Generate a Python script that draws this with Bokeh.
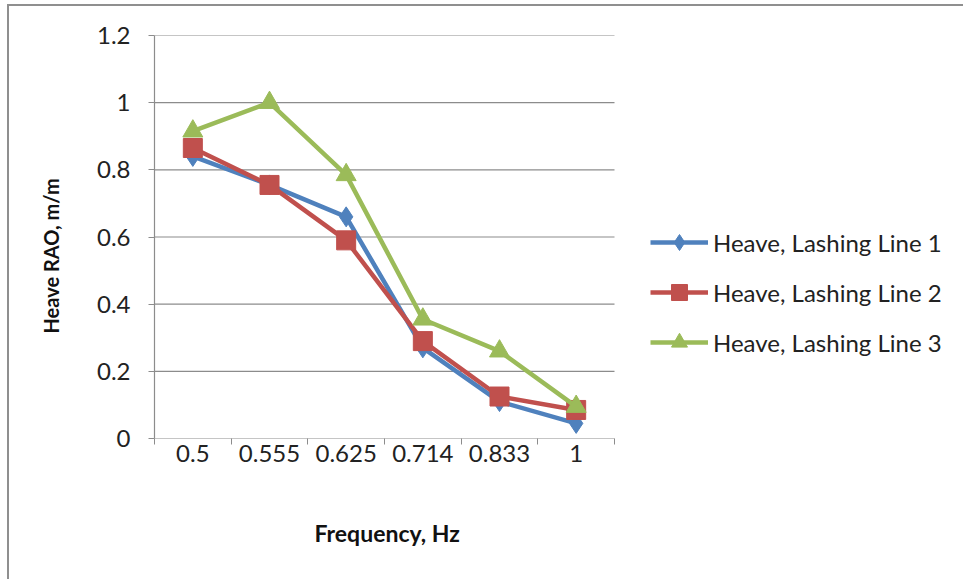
from bokeh.plotting import figure
from bokeh.models import (Range1d, FixedTicker, CustomJSTickFormatter, Legend, LegendItem, Title)
from bokeh.embed import file_html
from bokeh.resources import INLINE

categories = ["0.5", "0.555", "0.625", "0.714", "0.833", "1"]
line1 = [0.84, 0.755, 0.66, 0.27, 0.11, 0.045]
line2 = [0.865, 0.755, 0.59, 0.29, 0.125, 0.085]
line3 = [0.915, 1.0, 0.785, 0.355, 0.26, 0.095]
series_names = ["Heave, Lashing Line 1", "Heave, Lashing Line 2", "Heave, Lashing Line 3"]
y_ticks = [0, 0.2, 0.4, 0.6, 0.8, 1.0, 1.2]

colors = ["#4F81BD", "#C0504D", "#9BBB59"]
FONT = "Lato"
GRAY = "#8c8c8c"

n = len(categories)
xs = [i + 0.5 for i in range(n)]
bounds = list(range(n + 1))

# layout (pixels): plotting area is 460 px wide, frame extends to the right edge
PLOT_PX = 460
FRAME_W = 811
FRAME_H = 403
x_end = n * FRAME_W / PLOT_PX

p = figure(frame_width=FRAME_W, frame_height=FRAME_H, output_backend="svg",
           toolbar_location=None,
           x_range=Range1d(0, x_end), y_range=Range1d(0, 1.2),
           min_border_left=143, min_border_right=0, min_border_top=29,
           min_border_bottom=141)
p.styles = {"border-left": "2px solid #8f8f8f", "border-top": "2px solid #8f8f8f",
            "margin-left": "7px", "margin-top": "4px"}
p.outline_line_color = None
p.background_fill_color = "white"
p.border_fill_color = "white"
p.xgrid.visible = False
p.ygrid.visible = False

# horizontal gridlines only across the category area
p.segment(x0=[0] * len(y_ticks), x1=[n] * len(y_ticks), y0=y_ticks, y1=y_ticks,
          line_color=GRAY, line_width=1.2)

# y axis
p.yaxis.ticker = FixedTicker(ticks=y_ticks)
p.yaxis.formatter = CustomJSTickFormatter(code="return tick.toFixed(1).replace(/\\.0$/, '');")
p.yaxis.axis_line_color = GRAY
p.yaxis.axis_line_width = 1.2
p.yaxis.major_tick_line_color = GRAY
p.yaxis.major_tick_in = 0
p.yaxis.major_tick_out = 6
p.yaxis.minor_tick_line_color = None
p.yaxis.major_label_standoff = 18
p.yaxis.major_label_text_font = FONT
p.yaxis.major_label_text_font_size = "24px"
p.yaxis.major_label_text_color = "#222222"

ytitle = Title(text="Heave RAO, m/m", align="left", offset=105, vertical_align="top",
               text_font=FONT, text_font_style="bold", text_font_size="20px",
               text_color="#111111", standoff=58)
p.add_layout(ytitle, "left")

# x axis (categories between boundary ticks)
p.xaxis.ticker = FixedTicker(ticks=xs, minor_ticks=bounds)
p.xaxis.formatter = CustomJSTickFormatter(args=dict(labels=categories),
                                          code="return labels[Math.floor(tick)] || '';")
p.xaxis.axis_line_color = None
p.xaxis.major_tick_line_color = None
p.xaxis.major_tick_in = 0
p.xaxis.major_tick_out = 0
p.xaxis.minor_tick_line_color = GRAY
p.xaxis.minor_tick_in = 0
p.xaxis.minor_tick_out = 6
p.xaxis.major_label_standoff = 0
p.xaxis.major_label_text_font = FONT
p.xaxis.major_label_text_font_size = "24px"
p.xaxis.major_label_text_color = "#222222"

xtitle = Title(text="Frequency, Hz", align="left", offset=160, vertical_align="top",
               text_font=FONT, text_font_style="bold", text_font_size="23px",
               text_color="#111111", standoff=108)
p.add_layout(xtitle, "below")

items = []
data = [line1, line2, line3]
markers = ["diamond", "square", "triangle"]
sizes = [20, 19, 20]
for vals, c, m, s, name in zip(data, colors, markers, sizes, series_names):
    r1 = p.line(xs, vals, line_color=c, line_width=4.5)
    r2 = p.scatter(xs, vals, marker=m, size=s, fill_color=c, line_color=c)
    items.append(LegendItem(label=name, renderers=[r1, r2]))

legend = Legend(items=items, location=(496, 76), orientation="vertical",
                border_line_color=None, background_fill_alpha=0,
                label_text_font=FONT, label_text_font_size="24px",
                label_text_color="#222222", glyph_width=58, glyph_height=40,
                label_height=40, label_standoff=5, spacing=10, padding=0, margin=0)
p.add_layout(legend)

open("out.html", "w").write(file_html(p, INLINE))
